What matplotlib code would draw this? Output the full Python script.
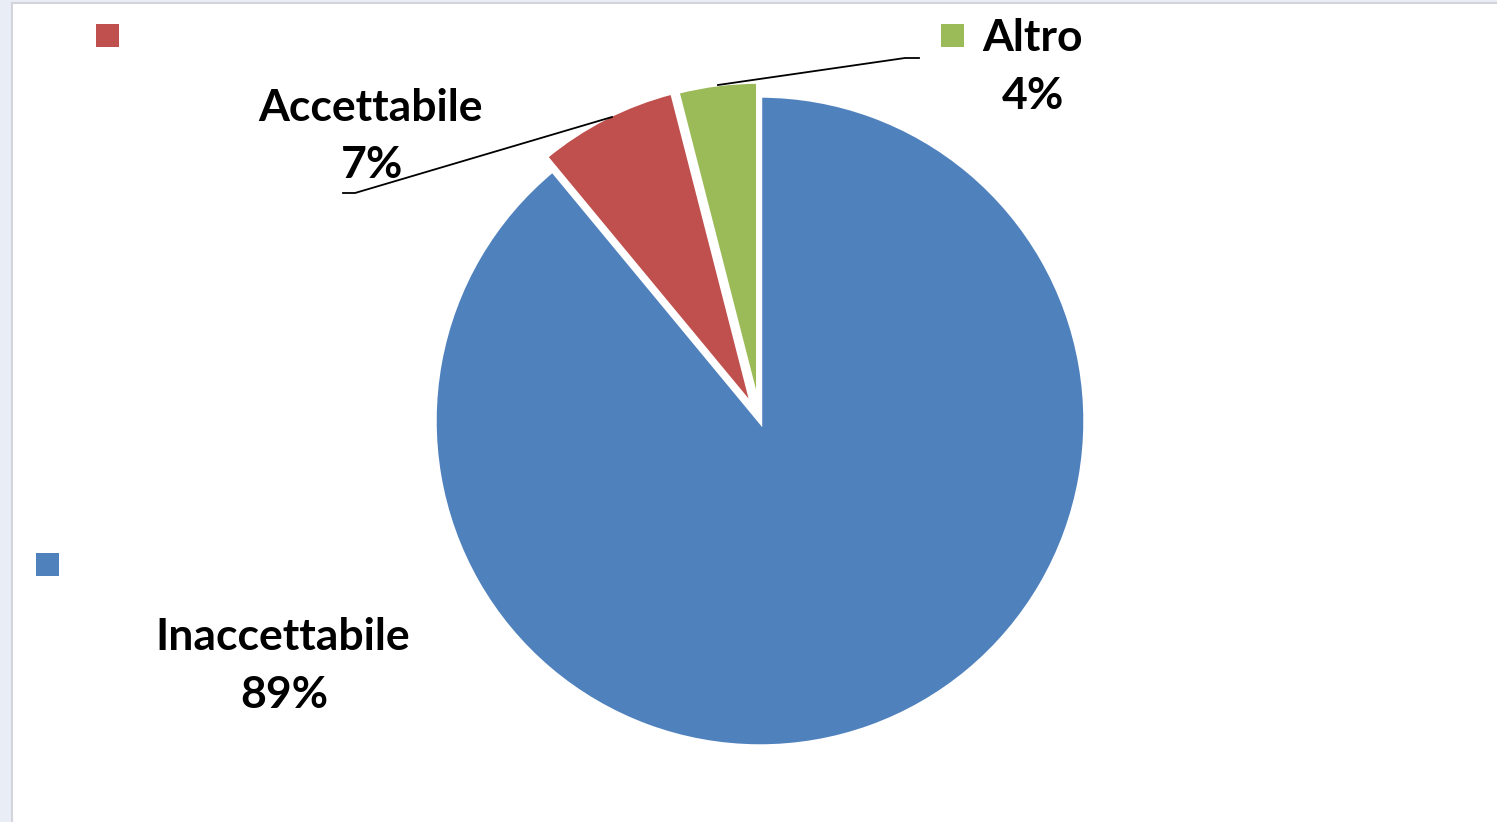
import matplotlib
matplotlib.use("Agg")
import matplotlib.pyplot as plt
from matplotlib.patches import Rectangle

# data
categories = ["Inaccettabile", "Accettabile", "Altro"]
values = [89, 7, 4]
colors = ["#4F81BD", "#C0504D", "#9BBB59"]

W, H = 1497, 822
plt.rcParams["font.family"] = ["Lato", "DejaVu Sans"]

fig = plt.figure(figsize=(W / 100, H / 100), dpi=100)
fig.patch.set_facecolor("white")

# window frame (light strip left and top)
fig.patches.append(Rectangle((0, 0), 11 / W, 1, transform=fig.transFigure,
                             facecolor="#E9EDF6", edgecolor="none", zorder=0))
fig.patches.append(Rectangle((0, 1 - 3 / H), 1, 3 / H, transform=fig.transFigure,
                             facecolor="#E9EDF6", edgecolor="none", zorder=0))
fig.lines.append(plt.Line2D([11.5 / W, 11.5 / W], [0, 1 - 3.5 / H], transform=fig.transFigure,
                            color="#D3D5DA", lw=1.5))
fig.lines.append(plt.Line2D([11.5 / W, 1], [1 - 3.5 / H, 1 - 3.5 / H], transform=fig.transFigure,
                            color="#D3D5DA", lw=1.5))

ax = fig.add_axes([0, 0, 1, 1])
ax.set_xlim(0, W)
ax.set_ylim(0, H)
ax.set_aspect("equal")
ax.axis("off")

cx, cy, r = 760, H - 421, 325.5
# explode is in data units for matplotlib pie
wedges, _ = ax.pie(values, colors=colors, startangle=90, counterclock=False,
                   center=(cx, cy), radius=r, explode=[0, 15, 14],
                   wedgeprops=dict(edgecolor="white", linewidth=3.2))
ax.set_xlim(0, W)
ax.set_ylim(0, H)

# labels
lab = dict(fontsize=32, fontweight="bold", color="black", ha="center", va="center")
pct = [f"{v}%" for v in values]
ax.text(283, H - 637, categories[0], **lab)
ax.text(284, H - 695, pct[0], **lab)
ax.text(371, H - 108, categories[1], **lab)
ax.text(372, H - 165, pct[1], **lab)
ax.text(1033, H - 38, categories[2], **lab)
ax.text(1033, H - 96, pct[2], **lab)

# leader lines
ax.plot([343, 355, 612], [H - 193, H - 193, H - 117], color="black", lw=1.3)
ax.plot([718, 905, 919], [H - 85, H - 58, H - 58], color="black", lw=1.3)

# legend markers (text missing in original)
for (mx, my), c in zip([(47, 564), (107, 35), (952, 35)], colors):
    ax.add_patch(Rectangle((mx - 11.5, H - my - 11.5), 23, 23, facecolor=c, edgecolor="none"))

fig.savefig("out.png", dpi=100, facecolor="white")
